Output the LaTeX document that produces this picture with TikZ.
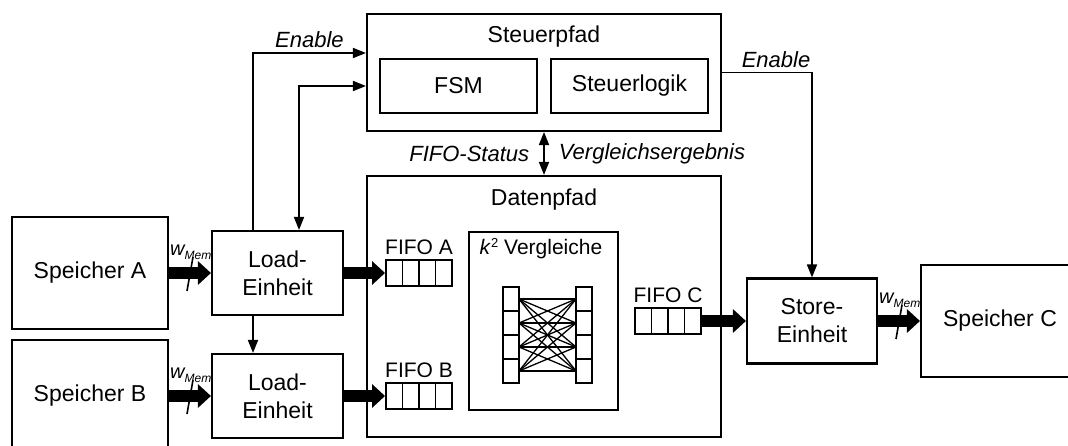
\documentclass[tikz,border=0pt]{standalone}
\usepackage{fontspec}
\setmainfont{Liberation Sans}
\usetikzlibrary{positioning, calc, arrows.meta}

\begin{document}
\begin{tikzpicture}[x=1pt, y=-1pt,
    box/.style={draw, line width=2.1pt, align=center, inner sep=0pt, font=\fontsize{23}{28}\selectfont},
    title/.style={inner sep=0pt, font=\fontsize{23}{28}\selectfont},
    fifo/.style={draw, line width=1.9pt, minimum width=66pt, minimum height=26pt, inner sep=0pt,
        path picture={\foreach \i in {1,2,3} \draw[line width=1.9pt] ([xshift=\i*16.5pt]path picture bounding box.south west) -- ++(0pt,30pt);}},
    flabel/.style={inner sep=0pt, font=\fontsize{21}{24}\selectfont},
    sig/.style={inner sep=14pt, font=\fontsize{22}{24}\selectfont\itshape},
    ctrl/.style={line width=1.7pt, -{Triangle[length=13pt,width=10pt]}},
    bus/.style={line width=12pt, -{Triangle[length=13pt,width=23pt]}},
    tick/.style={line width=1.6pt},
    wlabel/.style={anchor=south west, inner sep=0pt, font=\fontsize{20}{22}\selectfont\itshape}]

\clip (0,0) rectangle (1068,446);

% Speicher
\node[box, minimum width=156pt, minimum height=112pt] (speicherA) at (90,273) {Speicher A};
\node[box, minimum width=156pt, minimum height=112pt] (speicherB) at (90,396) {Speicher B};
\node[box, minimum width=158pt, minimum height=112pt] (speicherC) at (1000,321) {Speicher C};

% Load/Store
\node[box, minimum width=131pt, minimum height=84pt] (loadA) at (277.5,273) {Load-\\Einheit};
\node[box, minimum width=131pt, minimum height=84pt] (loadB) at (277.5,396) {Load-\\Einheit};
\node[box, minimum width=130pt, minimum height=85pt] (store) at (812,321) {Store-\\Einheit};

% Steuerpfad
\node[box, minimum width=354pt, minimum height=117pt] (steuer) at (544,72.5) {};
\node[title] (steuerTitle) at (544,37) {Steuerpfad};
\node[box, minimum width=157pt, minimum height=54pt] (fsm) at (458.5,86) {FSM};
\node[box, minimum width=157pt, minimum height=54pt] (logik) at (629.5,86) {Steuerlogik};

% Datenpfad
\node[box, minimum width=354pt, minimum height=261pt] (daten) at (544,306.5) {};
\node[title] (datenTitle) at (544,200) {Datenpfad};
\node[fifo, label={[flabel, label distance=4pt]above:FIFO A}] (fifoA) at (419,273) {};
\node[fifo, label={[flabel, label distance=4pt]above:FIFO B}] (fifoB) at (419,396) {};
\node[fifo, label={[flabel, label distance=4pt]above:FIFO C}] (fifoC) at (668,321) {};
\node[box, minimum width=149pt, minimum height=178pt] (vgl) at (543.5,321) {};
\node[flabel] (vglTitle) at (541,249) {\textit{k}\raisebox{7pt}{\fontsize{13}{14}\selectfont 2} Vergleiche};

% Vergleichernetz
\foreach \i in {0,...,3} {
  \draw[line width=1.9pt] (503,287+24*\i) rectangle (519,311+24*\i);
  \draw[line width=1.9pt] (576,287+24*\i) rectangle (592,311+24*\i);
  \foreach \j in {0,...,3}
    \draw[line width=1.3pt] (519,299+24*\i) -- (576,299+24*\j);
}

% Busse
\draw[bus] (speicherA) -- coordinate (wA) (loadA);
\draw[bus] (speicherB) -- coordinate (wB) (loadB);
\draw[bus] (store) -- coordinate (wC) (speicherC);
\draw[bus] (loadA) -- (fifoA);
\draw[bus] (loadB) -- (fifoB);
\draw[bus] (fifoC) -- (store);
\foreach \w in {wA, wB, wC} {
  \draw[tick] ([shift={(3pt,16pt)}]\w) -- ([shift={(-3pt,-18pt)}]\w);
  \node[wlabel] at ([shift={(-20pt,13pt)}]\w) {w\raisebox{-4pt}{\fontsize{12}{13}\selectfont Mem}};
}

% Steuersignale
\draw[ctrl] ([xshift=-24.5pt]loadA.north) |- ([yshift=19.5pt]steuer.west)
  node[sig, above, inner sep=4pt, pos=0.75] {Enable};
\draw[ctrl, {Triangle[length=13pt,width=10pt]}-{Triangle[length=13pt,width=10pt]}]
  ([xshift=21.5pt]loadA.north) |- ([yshift=-13.5pt]steuer.west);
\draw[ctrl] ([xshift=-24.5pt]loadA.south) -- ([xshift=-24.5pt]loadB.north);
\draw[ctrl] (steuer.east) -| (store.north)
  node[sig, above, inner sep=4pt, pos=0.3] {Enable};
\draw[ctrl, {Triangle[length=13pt,width=10pt]}-{Triangle[length=13pt,width=10pt]}]
  (steuer.south) -- (daten.north)
  node[sig, midway, left] {FIFO-Status}
  node[sig, midway, right] {Vergleichsergebnis};

\end{tikzpicture}
\end{document}
